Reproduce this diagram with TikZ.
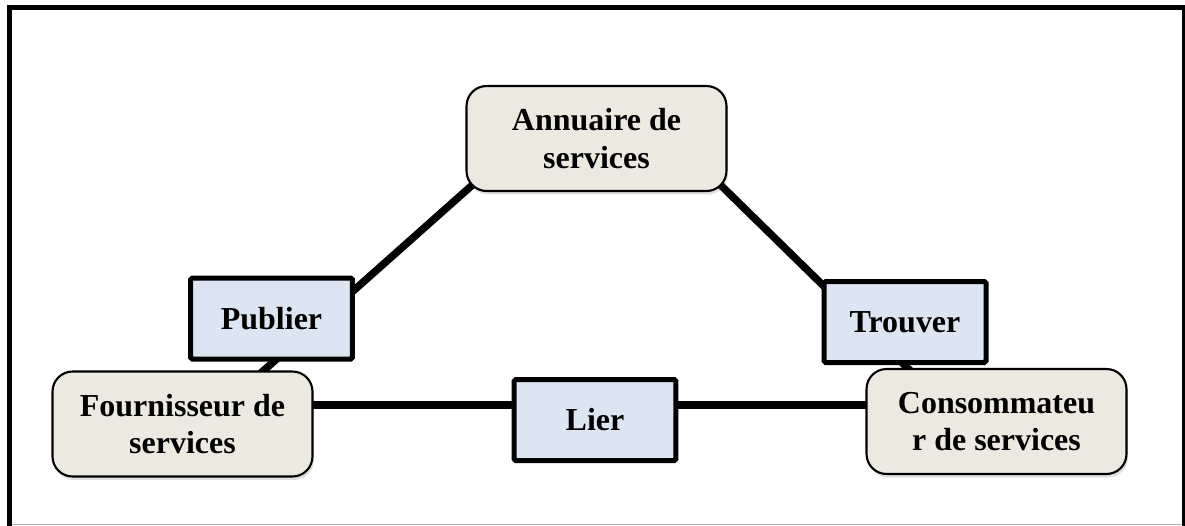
\documentclass[tikz,border=0pt]{standalone}
\usepackage{fontspec}
\setmainfont{Liberation Serif}
\usepackage{xcolor}
\usetikzlibrary{
  positioning,
  calc,
  backgrounds,
  shadows
}
\definecolor{rolefill}{RGB}{236,234,224}
\definecolor{actfill}{RGB}{220,230,242}
\tikzset{
  rolebox/.style={
    draw=black,
    line width=1.2pt,
    fill=rolefill,
    rounded corners=0.4cm,
    minimum width=5.2cm,
    minimum height=2.1cm,
    inner sep=2pt,
    align=center,
    font=\fontsize{18.2}{21.5}\selectfont\bfseries,
    drop shadow={shadow xshift=0.03cm, shadow yshift=-0.07cm, opacity=0.2, fill=black!60},
  },
  actbox/.style={
    draw=black,
    line width=0.1cm,
    fill=actfill,
    rounded corners=1pt,
    minimum width=3.24cm,
    minimum height=1.62cm,
    inner sep=2pt,
    align=center,
    font=\fontsize{18.2}{21.5}\selectfont\bfseries,
  },
  link/.style={
    line width=0.15cm,
    draw=black,
  },
  framebox/.style={
    draw=black,
    line width=0.1cm,
  },
}

\begin{document}
\begin{tikzpicture}[x=0.02cm, y=-0.02cm]
  \useasboundingbox (0,0) rectangle (1185,525);

  % outer frame
  \draw[framebox] (9.5,7.5) rectangle (1184.5,545);
  \draw[gray!60, line width=0.6pt] (12,524.3) -- (1182,524.3);

  % roles
  \node[rolebox] (annuaire) at (596.5,138.5) {Annuaire de\\services};
  \node[rolebox] (fournisseur) at (182.5,424) {Fournisseur de\\services};
  \node[rolebox] (consommateur) at (996.5,421.5) {Consommateu\\r de services};

  % operations
  \node[actbox] (publier) at (271.5,318.5) {Publier};
  \node[actbox] (trouver) at (905,322) {Trouver};
  \node[actbox] (lier) at (595,420) {Lier};

  % links behind the boxes
  \begin{scope}[on background layer]
    \draw[link, shorten >=-0.15cm]
      ($(annuaire.south west)+(8,-8)$) --
      ($(fournisseur.north west)!0.81!(fournisseur.north east)$);
    \draw[link, shorten >=-0.15cm]
      ($(annuaire.south east)+(-8,-8)$) --
      ($(consommateur.north west)!0.16!(consommateur.north east)$);
    \draw[link]
      ($(fournisseur.east)+(-4,-19)$) -- ($(consommateur.west)+(4,-16.5)$);
  \end{scope}
\end{tikzpicture}
\end{document}
